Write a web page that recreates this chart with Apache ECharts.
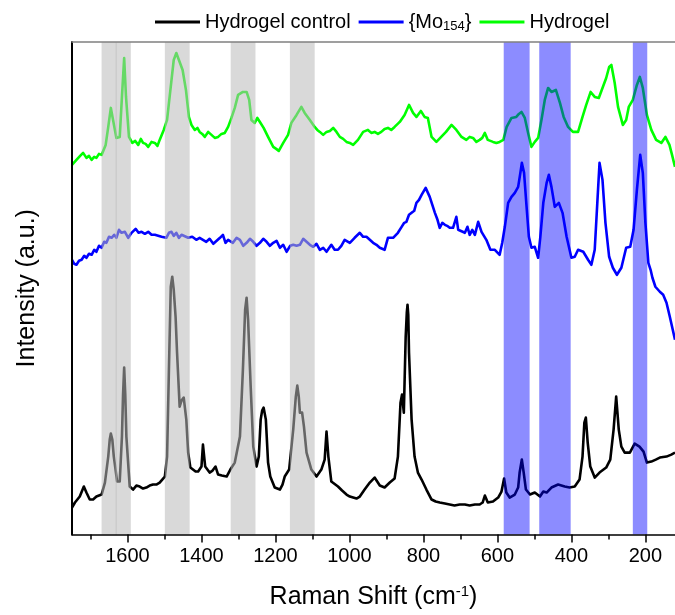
<!DOCTYPE html>
<html><head><meta charset="utf-8">
<script src="https://cdn.jsdelivr.net/npm/echarts@6/dist/echarts.min.js"></script>
<style>html,body{margin:0;padding:0;background:#fff}#c{width:675px;height:615px}</style>
</head><body><div id="c"></div>
<script>
// Raman shift (cm-1), intensity (a.u.)
var controlData = [
[1750,27],[1742,32],[1729,38],[1718,48],[1711,42],[1702,35],[1693,35],[1684,38],[1670,40],[1661,52],[1652,78],[1648,95],[1645,101],[1641,95],[1637,78],[1628,53],[1621,53],[1615,98],[1612,140],[1609,167],[1606,140],[1603,98],[1594,48],[1585,45],[1576,49],[1567,48],[1558,46],[1549,47],[1540,49],[1531,50],[1522,50],[1513,52],[1499,58],[1493,78],[1488,165],[1483,248],[1479,258],[1475,245],[1470,218],[1466,182],[1459,128],[1454,134],[1448,137],[1441,115],[1436,82],[1430,67],[1423,65],[1416,63],[1409,63],[1400,68],[1396,90],[1390,68],[1378,62],[1370,64],[1362,68],[1355,60],[1345,59],[1332,58],[1322,65],[1310,72],[1296,98],[1288,165],[1282,225],[1278,237],[1274,215],[1267,148],[1260,88],[1251,68],[1245,78],[1240,115],[1236,124],[1232,127],[1226,115],[1220,72],[1214,58],[1202,47],[1195,46],[1188,45],[1181,50],[1175,58],[1163,65],[1152,105],[1145,138],[1141,149],[1137,138],[1134,122],[1128,122],[1123,108],[1116,82],[1103,65],[1089,58],[1076,65],[1067,75],[1062,103],[1057,78],[1049,53],[1031,48],[1020,44],[1008,40],[999,38],[990,37],[981,36],[972,38],[959,45],[945,52],[932,57],[918,49],[905,47],[891,52],[878,56],[869,78],[862,132],[858,140],[853,122],[848,198],[845,222],[843,230],[841,220],[839,182],[832,115],[824,78],[815,62],[805,55],[792,45],[778,35],[767,33],[756,32],[742,31],[729,30],[716,29],[702,30],[688,30],[675,29],[661,30],[648,30],[640,32],[634,39],[626,32],[612,33],[598,37],[589,43],[582,56],[576,42],[567,37],[553,40],[544,47],[540,62],[534,75],[529,62],[523,45],[512,40],[499,42],[485,38],[476,43],[467,42],[454,47],[436,50],[418,48],[405,47],[391,48],[378,55],[370,78],[365,112],[361,117],[356,92],[349,68],[337,57],[324,62],[306,67],[295,75],[286,105],[279,138],[272,105],[265,88],[256,82],[242,82],[229,91],[216,88],[205,83],[196,72],[184,73],[172,75],[161,77],[143,78],[130,80],[120,82]
];
var moData = [
[1750,275],[1744,271],[1738,270],[1731,274],[1724,275],[1717,279],[1711,277],[1704,281],[1697,280],[1690,285],[1684,283],[1677,289],[1670,287],[1663,293],[1657,292],[1650,298],[1643,297],[1636,300],[1630,297],[1623,305],[1616,302],[1607,303],[1598,297],[1589,302],[1578,306],[1570,302],[1562,303],[1553,301],[1544,303],[1535,300],[1526,300],[1508,298],[1495,297],[1488,302],[1481,303],[1475,299],[1468,302],[1461,297],[1454,300],[1436,297],[1425,298],[1414,295],[1405,297],[1396,295],[1387,293],[1378,296],[1368,291],[1359,294],[1350,297],[1342,300],[1335,292],[1328,295],[1315,292],[1305,297],[1296,295],[1287,289],[1278,292],[1269,296],[1260,293],[1251,289],[1242,292],[1233,296],[1224,293],[1215,289],[1206,292],[1197,294],[1188,287],[1179,290],[1170,283],[1160,289],[1152,290],[1143,289],[1134,290],[1125,296],[1116,293],[1107,290],[1098,288],[1089,291],[1080,285],[1071,287],[1062,283],[1049,290],[1040,285],[1031,285],[1022,289],[1013,295],[999,292],[986,297],[972,302],[963,298],[954,298],[945,295],[936,292],[927,290],[918,287],[905,285],[896,297],[882,297],[869,302],[859,308],[852,312],[846,313],[839,320],[832,322],[825,324],[819,332],[812,335],[805,340],[794,347],[789,345],[783,338],[776,330],[769,322],[762,315],[756,307],[749,312],[742,310],[736,309],[729,307],[720,307],[711,318],[706,305],[702,303],[688,302],[681,308],[675,300],[668,305],[661,300],[652,313],[643,303],[630,295],[619,285],[607,285],[594,280],[587,292],[580,308],[571,332],[562,338],[553,342],[544,348],[538,362],[534,372],[528,362],[522,332],[515,298],[508,287],[499,288],[490,277],[484,298],[476,332],[467,352],[461,360],[454,348],[445,328],[434,332],[424,322],[413,298],[400,277],[391,278],[382,285],[368,283],[355,275],[346,270],[337,285],[330,332],[324,372],[316,355],[308,312],[298,278],[288,267],[277,260],[265,267],[252,287],[241,288],[232,305],[223,345],[214,380],[207,362],[200,312],[192,272],[186,265],[181,257],[173,248],[161,243],[152,240],[143,232],[134,218],[120,195]
];
var hydrogelData = [
[1750,370],[1738,375],[1728,379],[1720,382],[1711,377],[1704,379],[1697,375],[1690,378],[1684,377],[1677,381],[1670,380],[1659,390],[1652,408],[1645,427],[1639,415],[1630,397],[1621,398],[1615,438],[1609,477],[1604,438],[1596,398],[1587,392],[1579,394],[1571,390],[1564,396],[1558,392],[1551,391],[1544,388],[1535,393],[1526,392],[1519,389],[1513,395],[1502,405],[1493,415],[1481,455],[1475,475],[1468,482],[1461,475],[1451,465],[1442,445],[1434,418],[1427,410],[1418,405],[1411,407],[1405,403],[1398,401],[1391,398],[1382,403],[1373,400],[1364,397],[1355,398],[1346,401],[1337,402],[1328,408],[1319,417],[1310,427],[1301,440],[1288,443],[1278,443],[1271,435],[1265,415],[1256,412],[1249,417],[1242,413],[1232,407],[1220,398],[1206,388],[1198,386],[1191,384],[1185,388],[1179,392],[1166,400],[1157,412],[1143,420],[1130,428],[1121,422],[1107,415],[1094,408],[1087,405],[1080,403],[1071,400],[1062,403],[1053,404],[1044,407],[1035,403],[1026,398],[1017,396],[1008,393],[999,392],[990,390],[977,395],[963,403],[950,405],[941,402],[932,403],[923,401],[914,403],[905,406],[896,407],[887,405],[878,408],[864,413],[851,420],[839,430],[828,422],[819,418],[807,424],[797,418],[788,417],[778,398],[765,393],[752,398],[739,403],[724,410],[711,405],[697,398],[684,395],[675,398],[666,397],[657,393],[648,395],[641,397],[634,402],[626,395],[612,393],[603,392],[594,393],[584,395],[575,408],[562,417],[549,418],[542,421],[535,423],[526,417],[517,402],[508,388],[499,393],[490,397],[481,415],[472,435],[463,447],[454,443],[442,445],[431,432],[421,418],[409,408],[396,403],[382,403],[370,418],[360,430],[348,443],[337,438],[326,437],[315,448],[306,457],[298,468],[292,470],[283,452],[274,428],[261,410],[252,415],[245,428],[234,435],[223,450],[215,458],[207,447],[196,420],[184,405],[171,395],[157,392],[146,398],[135,390],[128,380],[120,368]
];
var seriesNames = ['Hydrogel control', '{Mo154}', 'Hydrogel'];
var seriesColors = ['#000000', '#0000ff', '#00ff00'];
var majorTicks = [200, 400, 600, 800, 1000, 1200, 1400, 1600];
var minorTicks = [300, 500, 700, 900, 1100, 1300, 1500, 1700];
var greyBands = [[1670, 1629], [1632, 1591], [1499, 1432], [1321, 1254], [1161, 1094]];
var blueBands = [[583, 513], [487, 402], [234, 195]];

var chart = echarts.init(document.getElementById('c'), null, {renderer: 'canvas'});
var FONT = 'Liberation Sans, Arial, sans-serif';
var XMIN = 120, XMAX = 1750;

var bandData = [];
greyBands.forEach(function (b) {
  bandData.push([{xAxis: b[0], itemStyle: {color: 'rgba(186,186,186,0.55)'}}, {xAxis: b[1]}]);
});
blueBands.forEach(function (b) {
  bandData.push([{xAxis: b[0], itemStyle: {color: 'rgba(0,0,255,0.45)'}}, {xAxis: b[1]}]);
});

var datasets = [controlData, moData, hydrogelData];
var series = datasets.map(function (d, i) {
  return {
    name: seriesNames[i], type: 'line', data: d, symbol: 'none', z: 2,
    lineStyle: {color: seriesColors[i], width: 2.6, join: 'round'}, itemStyle: {color: seriesColors[i]},
    animation: false
  };
});
series.push({
  name: 'bands', type: 'line', data: [], z: 10, animation: false,
  markArea: {silent: true, z: 10, data: bandData, label: {show: false}}
});

function baseX(extra) {
  var o = {type: 'value', min: XMIN, max: XMAX, inverse: true, splitLine: {show: false}};
  for (var k in extra) o[k] = extra[k];
  return o;
}

chart.setOption({
  animation: false,
  backgroundColor: '#fff',
  textStyle: {fontFamily: FONT},
  grid: {left: 72, right: 0, top: 42, bottom: 80, containLabel: false},
  legend: {
    data: seriesNames, left: 150, top: 7, itemWidth: 45, itemHeight: 3, itemGap: 8,
    icon: 'rect',
    textStyle: {fontSize: 20, color: '#000', fontFamily: FONT,
      rich: {sub: {fontSize: 13, verticalAlign: 'bottom', padding: [8, 0, 0, 0], fontFamily: FONT}}},
    formatter: function (n) { return n === '{Mo154}' ? '{Mo{sub|154}}' : n; }
  },
  xAxis: [
    baseX({position: 'bottom', z: 20,
      axisLine: {show: true, onZero: false, lineStyle: {color: '#000', width: 1.5}},
      axisTick: {show: true, customValues: majorTicks, length: 8, lineStyle: {color: '#000', width: 1.5}},
      axisLabel: {show: true, customValues: majorTicks, fontSize: 20, color: '#000', margin: 12, fontFamily: FONT,
        formatter: function (v) { return String(v); }},
      name: 'Raman Shift (cm{sup|-1})', nameLocation: 'middle', nameGap: 50,
      nameTextStyle: {fontSize: 25, color: '#000', fontFamily: FONT,
        rich: {sup: {fontSize: 15, verticalAlign: 'top', padding: [0, 0, 11, 0], fontFamily: FONT}}}
    }),
    baseX({position: 'bottom', z: 20,
      axisLine: {show: false, onZero: false},
      axisTick: {show: true, customValues: minorTicks, length: 5, lineStyle: {color: '#000', width: 1.5}},
      axisLabel: {show: false}
    }),
    baseX({position: 'top', z: 20,
      axisLine: {show: true, onZero: false, lineStyle: {color: '#808080', width: 1.5}},
      axisTick: {show: false}, axisLabel: {show: false}
    })
  ],
  yAxis: {
    type: 'value', min: 0, max: 493, z: 20,
    axisLine: {show: true, onZero: false, lineStyle: {color: '#000', width: 2}},
    axisTick: {show: false}, axisLabel: {show: false}, splitLine: {show: false},
    name: 'Intensity (a.u.)', nameLocation: 'middle', nameGap: 32,
    nameTextStyle: {fontSize: 25, color: '#000', fontFamily: FONT}
  },
  series: series
});
</script>
</body></html>
